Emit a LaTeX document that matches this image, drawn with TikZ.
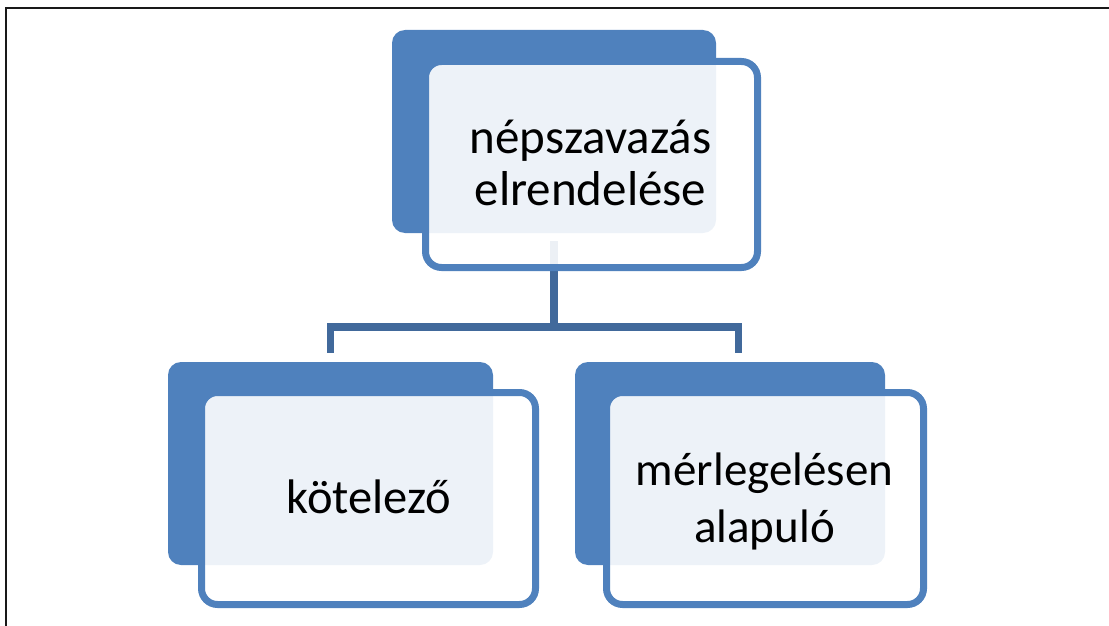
\documentclass[tikz,border=0pt]{standalone}
\usepackage{fontspec}
\setmainfont{Carlito}
\definecolor{accent}{HTML}{4F81BD}
\definecolor{connblue}{HTML}{41699B}
\begin{document}
\begin{tikzpicture}[x=1pt,y=-1pt,
  darkbox/.style={fill=accent, draw=none, rounded corners=13pt, inner sep=0pt, minimum height=203pt},
  outbox/.style={draw=accent, line width=7pt, fill=white, fill opacity=0.9, rounded corners=16pt, inner sep=0pt, minimum height=212pt},
  conn/.style={draw=connblue, line width=7.5pt},
  lbl/.style={anchor=base, align=center, inner sep=0pt, text=black}]
\useasboundingbox (0,0) rectangle (1109,626);
% frame
\draw[line width=2.5pt, black!90] (6,626) -- (6,8) -- (1109,8);
% boxes (dark)
\node[darkbox, minimum width=324pt] (d1) at (554,131.5) {};
\node[darkbox, minimum width=325pt] (d2) at (330.5,463.5) {};
\node[darkbox, minimum width=310pt] (d3) at (730,463.5) {};
% connectors
\coordinate (j) at (553,327);
\draw[conn, shorten <=8pt] (d1.south) -- (d1.south |- j);
\draw[conn, shorten <=9pt, shorten >=9pt] (d2.north) |- (j) -| ([xshift=8.5pt]d3.north);
% outline boxes
\node[outbox, minimum width=332pt, minimum height=206pt] (o1) at (591.5,164.5) {};
\node[outbox, minimum width=334pt] (o2) at (368.5,498.5) {};
\node[outbox, minimum width=317pt] (o3) at (765,498.5) {};
% labels (base anchor = baseline of last line)
\node[lbl, font=\fontsize{49}{52}\selectfont] (t1) at (590.5,205) {népszavazás\\elrendelése};
\node[lbl, font=\fontsize{48.5}{52}\selectfont] (t2) at (369,513) {kötelező};
\node[lbl, font=\fontsize{47}{57}\selectfont] (t3) at (764.5,542) {mérlegelésen\\alapuló};
\end{tikzpicture}
\end{document}
